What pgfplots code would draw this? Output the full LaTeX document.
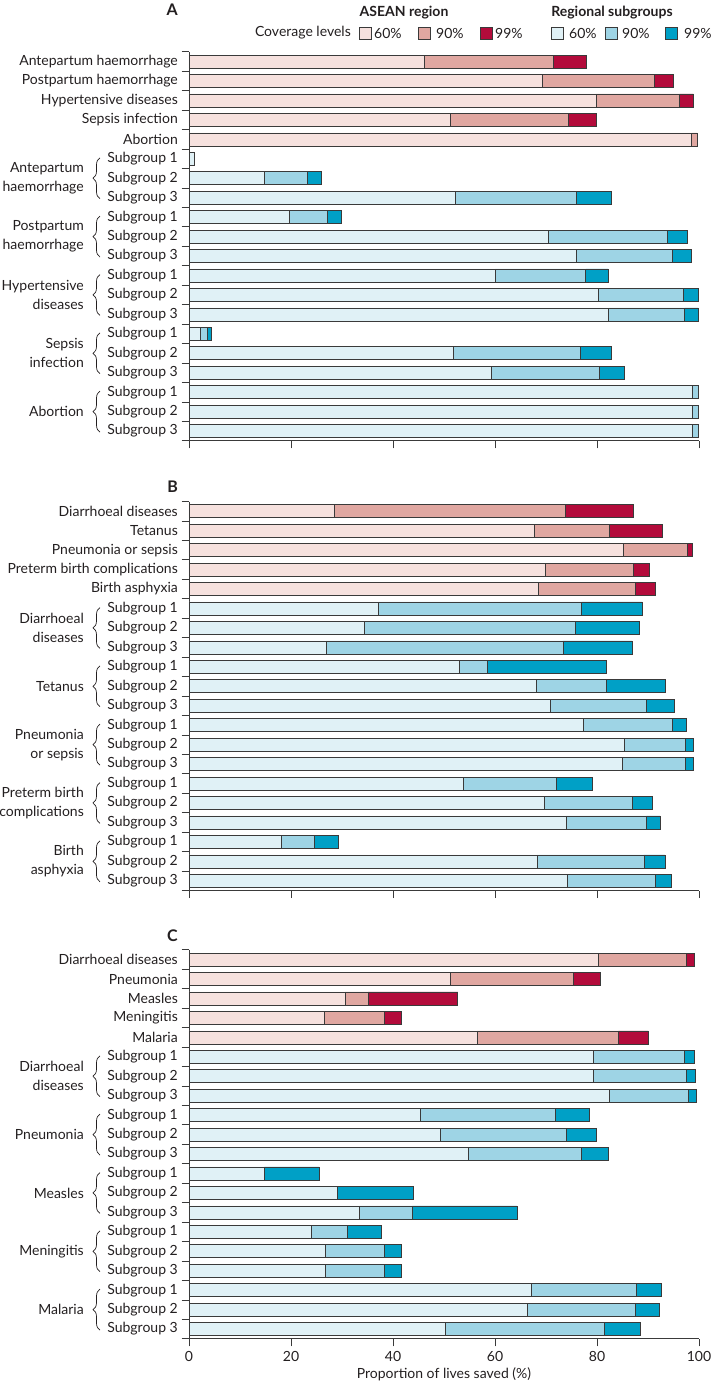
\documentclass[border=0pt]{standalone}
\usepackage{fontspec}
\setmainfont{Lato}
\usepackage{pgfplots}
\pgfplotsset{compat=1.18}
\usepackage{pgfplotstable}
\usetikzlibrary{decorations.pathreplacing}

\definecolor{a60}{HTML}{F6E1DE}
\definecolor{a90}{HTML}{E0A7A1}
\definecolor{a99}{HTML}{B30B3B}
\definecolor{s60}{HTML}{E0F1F6}
\definecolor{s90}{HTML}{9ED4E5}
\definecolor{s99}{HTML}{00A0C6}
\definecolor{edge}{HTML}{3A3A3A}
\definecolor{txt}{HTML}{231F20}
\newcommand{\lab}{\fontsize{14}{19}\selectfont}

% segment lengths (60%, 90% increment, 99% increment)
\pgfplotstableread{
row a60 a90 a99 s60 s90 s99
0 46.2 25.2 6.5 0 0 0
1 69.2 22.1 3.7 0 0 0
2 79.8 16.4 2.7 0 0 0
3 51.3 23.0 5.5 0 0 0
4 98.5 1.2 0 0 0 0
5 0 0 0 1.0 0 0
6 0 0 0 14.7 8.4 2.9
7 0 0 0 52.3 23.7 6.8
8 0 0 0 19.6 7.5 2.7
9 0 0 0 70.4 23.3 4.1
10 0 0 0 76.0 18.8 3.6
11 0 0 0 60.0 17.8 4.4
12 0 0 0 80.2 16.8 2.8
13 0 0 0 82.3 14.9 2.7
14 0 0 0 2.3 1.3 0.7
15 0 0 0 51.9 24.8 6.1
16 0 0 0 59.2 21.2 4.9
17 0 0 0 98.7 1.2 0
18 0 0 0 98.7 1.2 0
19 0 0 0 98.7 1.2 0
}\tabA
\pgfplotstableread{
row a60 a90 a99 s60 s90 s99
0 28.5 45.3 13.4 0 0 0
1 67.8 14.6 10.4 0 0 0
2 85.1 12.6 1.0 0 0 0
3 69.8 17.3 3.2 0 0 0
4 68.4 19.1 3.9 0 0 0
5 0 0 0 37.2 39.8 11.9
6 0 0 0 34.4 41.4 12.4
7 0 0 0 26.9 46.4 13.6
8 0 0 0 53.0 5.4 23.4
9 0 0 0 68.0 13.8 11.6
10 0 0 0 70.9 18.7 5.6
11 0 0 0 77.3 17.5 2.7
12 0 0 0 85.3 12.0 1.6
13 0 0 0 84.9 12.4 1.6
14 0 0 0 53.8 18.3 7.0
15 0 0 0 69.6 17.3 3.9
16 0 0 0 73.9 15.8 2.7
17 0 0 0 18.1 6.4 4.8
18 0 0 0 68.2 21.0 4.1
19 0 0 0 74.1 17.3 3.2
}\tabB
\pgfplotstableread{
row a60 a90 a99 s60 s90 s99
0 80.2 17.3 1.6 0 0 0
1 51.3 24.0 5.4 0 0 0
2 30.6 4.5 17.6 0 0 0
3 26.6 11.7 3.3 0 0 0
4 56.5 27.7 5.8 0 0 0
5 0 0 0 79.3 17.8 2.0
6 0 0 0 79.3 18.2 1.8
7 0 0 0 82.5 15.4 1.6
8 0 0 0 45.4 26.5 6.5
9 0 0 0 49.2 24.7 6.0
10 0 0 0 54.8 22.2 5.2
11 0 0 0 14.8 0 10.7
12 0 0 0 29.0 0 15.0
13 0 0 0 33.4 10.4 20.5
14 0 0 0 23.9 7.2 6.6
15 0 0 0 26.7 11.6 3.4
16 0 0 0 26.7 11.6 3.4
17 0 0 0 67.1 20.6 4.9
18 0 0 0 66.3 21.2 4.7
19 0 0 0 50.2 31.3 6.9
}\tabC

\pgfplotsset{panel/.style={
  xbar stacked, bar width=13pt,
  scale only axis, width=510pt, height=389pt,
  xmin=0, xmax=100, ymin=-0.5, ymax=19.5, y dir=reverse,
  axis lines=left, axis line style={-, draw=edge, line width=0.8pt},
  xtick={0,20,...,100},
  ytick={-0.5,0.5,...,19.5}, yticklabels={},
  tick align=outside, major tick length=7.5pt,
  tick style={draw=edge, line width=0.8pt},
  extra y ticks={0,1,...,19},
  extra y tick style={major tick length=0pt, tick style={draw=none}},
  yticklabel style={anchor=east, inner sep=0pt, xshift=-11pt, font=\lab, text=txt},
  clip=false,
  every axis plot/.append style={draw=edge, line width=0.6pt},
}}

\newcommand{\grp}[4]{%
  \draw[draw=txt, line width=0.7pt, decorate, decoration={brace, amplitude=7pt}]
    ([xshift=-89pt]axis cs:0,#2) -- ([xshift=-89pt]axis cs:0,#1);
  \node[anchor=east, align=right, font=\lab, text=txt, inner sep=0pt]
    at ([xshift=-105pt]axis cs:0,#3) {#4};}

\newcommand{\bars}[1]{%
  \addplot[fill=a60] table[x=a60,y=row]{#1};
  \addplot[fill=a90] table[x=a90,y=row]{#1};
  \addplot[fill=a99] table[x=a99,y=row]{#1};
  \addplot[fill=s60] table[x=s60,y=row]{#1};
  \addplot[fill=s90] table[x=s90,y=row]{#1};
  \addplot[fill=s99] table[x=s99,y=row]{#1};}

\begin{document}
\begin{tikzpicture}
\useasboundingbox (0pt,0pt) rectangle (712pt,-1382pt);

% panel letters
\node[anchor=east, inner sep=0pt, font=\bfseries\fontsize{16}{19}\selectfont, text=txt] at (178pt,-10pt) {A};
\node[anchor=east, inner sep=0pt, font=\bfseries\fontsize{16}{19}\selectfont, text=txt] at (178pt,-487pt) {B};
\node[anchor=east, inner sep=0pt, font=\bfseries\fontsize{16}{19}\selectfont, text=txt] at (178pt,-936pt) {C};

% legend
\node[inner sep=0pt, font=\bfseries\lab, text=txt] at (404pt,-13pt) {ASEAN region};
\node[inner sep=0pt, font=\bfseries\lab, text=txt] at (612pt,-13pt) {Regional subgroups};
\node[anchor=east, inner sep=0pt, font=\lab, text=txt] at (351pt,-33pt) {Coverage levels};
\filldraw[fill=a60, draw=edge, line width=0.6pt] (359pt,-27pt) rectangle (371pt,-39pt);
\filldraw[fill=a90, draw=edge, line width=0.6pt] (418pt,-27pt) rectangle (430pt,-39pt);
\filldraw[fill=a99, draw=edge, line width=0.6pt] (480pt,-27pt) rectangle (492pt,-39pt);
\filldraw[fill=s60, draw=edge, line width=0.6pt] (551pt,-27pt) rectangle (563pt,-39pt);
\filldraw[fill=s90, draw=edge, line width=0.6pt] (605pt,-27pt) rectangle (617pt,-39pt);
\filldraw[fill=s99, draw=edge, line width=0.6pt] (665pt,-27pt) rectangle (677pt,-39pt);
\node[anchor=west, inner sep=0pt, font=\lab, text=txt] at (374pt,-33pt) {60\%};
\node[anchor=west, inner sep=0pt, font=\lab, text=txt] at (436pt,-33pt) {90\%};
\node[anchor=west, inner sep=0pt, font=\lab, text=txt] at (495pt,-33pt) {99\%};
\node[anchor=west, inner sep=0pt, font=\lab, text=txt] at (569pt,-33pt) {60\%};
\node[anchor=west, inner sep=0pt, font=\lab, text=txt] at (622pt,-33pt) {90\%};
\node[anchor=west, inner sep=0pt, font=\lab, text=txt] at (684pt,-33pt) {99\%};

% ---------- Panel A ----------
\begin{axis}[panel, at={(189pt,-51.8pt)}, anchor=north west, xticklabels={},
  extra y tick labels={Antepartum haemorrhage, Postpartum haemorrhage, Hypertensive diseases, Sepsis infection, Abortion,
   Subgroup 1, Subgroup 2, Subgroup 3, Subgroup 1, Subgroup 2, Subgroup 3, Subgroup 1, Subgroup 2, Subgroup 3,
   Subgroup 1, Subgroup 2, Subgroup 3, Subgroup 1, Subgroup 2, Subgroup 3}]
\bars{\tabA}
\grp{4.95}{7.05}{6}{Antepartum\\haemorrhage}
\grp{7.95}{10.05}{9}{Postpartum\\haemorrhage}
\grp{10.95}{13.05}{12}{Hypertensive\\diseases}
\grp{13.95}{16.05}{15}{Sepsis\\infection}
\grp{16.95}{19.05}{18}{Abortion}
\end{axis}

% ---------- Panel B ----------
\begin{axis}[panel, at={(189pt,-501.5pt)}, anchor=north west, xticklabels={},
  extra y tick labels={Diarrhoeal diseases, Tetanus, Pneumonia or sepsis, Preterm birth complications, Birth asphyxia,
   Subgroup 1, Subgroup 2, Subgroup 3, Subgroup 1, Subgroup 2, Subgroup 3, Subgroup 1, Subgroup 2, Subgroup 3,
   Subgroup 1, Subgroup 2, Subgroup 3, Subgroup 1, Subgroup 2, Subgroup 3}]
\bars{\tabB}
\grp{4.95}{7.05}{6}{Diarrhoeal\\diseases}
\grp{7.95}{10.05}{9}{Tetanus}
\grp{10.95}{13.05}{12}{Pneumonia\\or sepsis}
\grp{13.95}{16.05}{15}{Preterm birth\\complications}
\grp{16.95}{19.05}{18}{Birth\\asphyxia}
\end{axis}

% ---------- Panel C ----------
\begin{axis}[panel, at={(189pt,-949.8pt)}, anchor=north west,
  /pgf/number format/assume math mode=true,
  xticklabel style={font=\lab, text=txt, yshift=-2pt},
  xlabel={Proportion of lives saved (\%)},
  xlabel style={font=\lab, text=txt, yshift=1pt},
  extra y tick labels={Diarrhoeal diseases, Pneumonia, Measles, Meningitis, Malaria,
   Subgroup 1, Subgroup 2, Subgroup 3, Subgroup 1, Subgroup 2, Subgroup 3, Subgroup 1, Subgroup 2, Subgroup 3,
   Subgroup 1, Subgroup 2, Subgroup 3, Subgroup 1, Subgroup 2, Subgroup 3}]
\bars{\tabC}
\grp{4.95}{7.05}{6}{Diarrhoeal\\diseases}
\grp{7.95}{10.05}{9}{Pneumonia}
\grp{10.95}{13.05}{12}{Measles}
\grp{13.95}{16.05}{15}{Meningitis}
\grp{16.95}{19.05}{18}{Malaria}
\end{axis}
\end{tikzpicture}
\end{document}
